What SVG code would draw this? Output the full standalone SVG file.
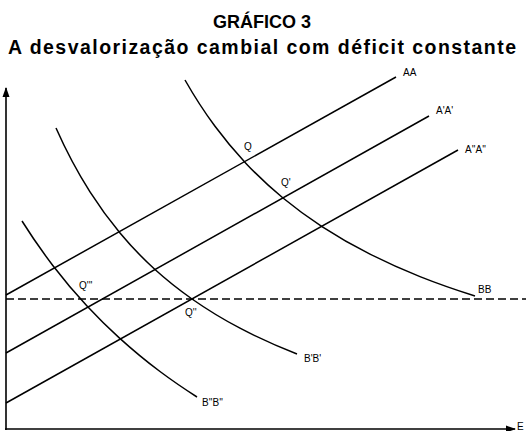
<svg xmlns="http://www.w3.org/2000/svg" width="526" height="431" viewBox="0 0 526 431">
<style>
.t{font-family:"Liberation Sans",Arial,sans-serif;font-weight:bold;fill:#000}
.l{font-family:"Liberation Sans",Arial,sans-serif;font-size:10px;fill:#000}
.ln{fill:none;stroke:#000;stroke-width:1.5}
.ax{fill:none;stroke:#000;stroke-width:1.6}
</style>
<defs>
<marker id="ah" viewBox="0 0 10 10" refX="9" refY="5" markerWidth="10" markerHeight="10" markerUnits="userSpaceOnUse" orient="auto">
<path d="M0,1.5 L10,5 L0,8.5 Z" fill="#000"/>
</marker>
</defs>
<rect width="526" height="431" fill="#fff"/>
<text class="t" x="262" y="28" font-size="18" text-anchor="middle">GRÁFICO 3</text>
<text class="t" x="8" y="54" font-size="19.5" textLength="508" lengthAdjust="spacing">A desvalorização cambial com déficit constante</text>
<g id="axes">
<line class="ax" x1="6" y1="430" x2="6" y2="88" marker-end="url(#ah)"/>
<line class="ax" x1="5" y1="429" x2="515" y2="429" marker-end="url(#ah)"/>
<text class="l" x="517" y="430" font-size="9">E</text>
</g>
<g id="connectors">
<line id="dashed" x1="6" y1="299" x2="526" y2="299" stroke="#000" stroke-width="1.3" stroke-dasharray="8,4"/>
</g>
<g id="AA">
<line class="ln" x1="6" y1="295" x2="396" y2="77"/>
<text class="l" x="403" y="76">AA</text>
</g>
<g id="A1A1">
<line class="ln" x1="6" y1="353" x2="429" y2="116"/>
<text class="l" x="436" y="114">A'A'</text>
</g>
<g id="A2A2">
<line class="ln" x1="6" y1="403" x2="458" y2="150"/>
<text class="l" x="465" y="153">A''A''</text>
</g>
<g id="BB">
<path class="ln" d="M185,80 C195,97.6 205,112.8 215,126.3 C225.3,140.3 235.7,152.4 246,163.4 C258.3,176.5 270.7,187.8 283,198 C296,208.7 309,218.1 322,226.6 C338,237 354,246.1 370,254.2 C386.7,262.6 403.3,270 420,276.6 C438.3,283.9 456.7,290.2 475,296"/>
<text class="l" x="478" y="293">BB</text>
</g>
<g id="B1B1">
<path class="ln" d="M56,128 C67.3,153.5 78.7,174.1 90,191.9 C100,207.6 110,221 120,233 C131.7,247 143.3,258.9 155,269.5 C167.3,280.7 179.7,290.3 192,299 C208,310.2 224,319.8 240,328.2 C259,338.2 278,346.6 297,354"/>
<text class="l" x="304" y="362">B'B'</text>
</g>
<g id="B2B2">
<path class="ln" d="M22,221 C32.3,237.4 42.7,252.2 53,265.7 C64.3,280.5 75.7,293.8 87,306 C97.7,317.5 108.3,327.9 119,337.6 C132.7,350 146.3,361.3 160,371.5 C172.3,380.7 184.7,389.1 197,397"/>
<text class="l" x="202" y="406">B''B''</text>
</g>
<g id="Q"><text class="l" x="244" y="150">Q</text></g>
<g id="Q1"><text class="l" x="281" y="186">Q'</text></g>
<g id="Q2"><text class="l" x="185" y="316">Q''</text></g>
<g id="Q3"><text class="l" x="79" y="289">Q'''</text></g>
</svg>
